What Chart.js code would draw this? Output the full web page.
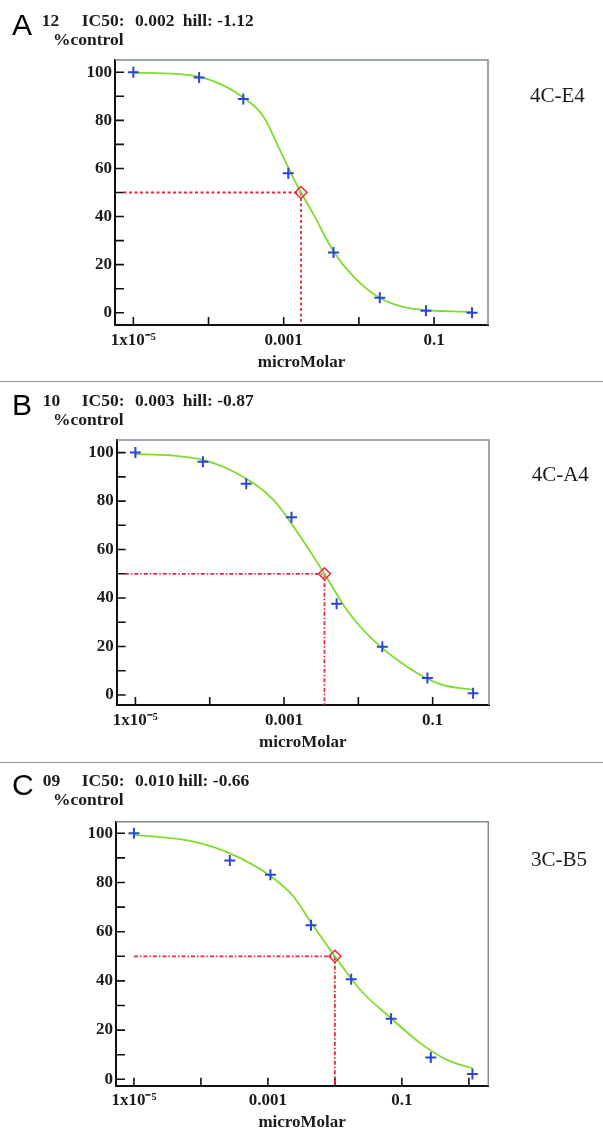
<!DOCTYPE html>
<html>
<head>
<meta charset="utf-8">
<script src="https://cdn.jsdelivr.net/npm/chart.js@4.4.1/dist/chart.umd.min.js"></script>
<style>
    html, body { margin: 0; padding: 0; background: #fff; }
    #page { position: relative; width: 603px; height: 1143px; overflow: hidden; }
    canvas { position: absolute; left: 0; }
    .txt { position: absolute; line-height: 1; white-space: pre; color: #1b1b1b; }
    .serif { font-family: "Liberation Serif", "Times New Roman", serif; }
    .hdr { font-size: 17.5px; font-weight: bold; }
    .letter { font-family: "Liberation Sans", Arial, sans-serif; font-size: 30px; color: #000; }
    .cmpd { font-size: 21px; }
    .sep { position: absolute; left: 0; width: 603px; height: 1px; background: #8c999c; }
</style>
</head>
<body>
<div id="page"></div>
<script>
// panel texts
const panelLetters = ['A', 'B', 'C'];
const wellIds = ['12', '10', '09'];
const ic50Labels = ['0.002', '0.003', '0.010'];
const hillLabels = ['-1.12', '-0.87', '-0.66'];
const compoundNames = ['4C-E4', '4C-A4', '3C-B5'];

// measured points (microMolar, %control)
const concA = [1e-5, 7.5e-5, 2.9e-4, 1.15e-3, 4.6e-3, 1.9e-2, 7.8e-2, 0.32];
const respA = [100, 97.8, 88.9, 58.0, 25.1, 6.2, 0.8, 0];
const concB = [1e-5, 8.1e-5, 3.1e-4, 1.26e-3, 5.1e-3, 2.1e-2, 8.5e-2, 0.35];
const respB = [100, 96.2, 87.1, 73.3, 37.6, 19.9, 7.0, 0.7];
const concC = [1e-5, 2.7e-4, 1.09e-3, 4.4e-3, 1.75e-2, 6.9e-2, 0.27, 1.13];
const respC = [100, 88.9, 83.1, 62.6, 40.7, 24.6, 8.9, 2.2];

// fitted curves
const fitConcA = [1e-5, 3.8e-5, 1.05e-4, 2.9e-4, 5.4e-4, 8.9e-4, 1.35e-3, 1.7e-3, 2.45e-3, 4.6e-3, 8.5e-3, 1.86e-2, 4.8e-2, 0.316];
const fitA = [99.8, 99.3, 96.8, 89.5, 81.5, 67.7, 55.9, 50, 41.3, 25.5, 15.0, 6.3, 1.8, 0.3];
const fitConcB = [1e-5, 2.95e-5, 8.1e-5, 2.3e-4, 7.2e-4, 1.66e-3, 3.5e-3, 7.0e-3, 1.58e-2, 4.5e-2, 0.126, 0.347];
const fitB = [99.4, 98.9, 97.0, 91.5, 80.5, 65.3, 50, 35.1, 22.7, 11.7, 4.5, 2.1];
const fitConcC = [1e-5, 2.45e-5, 7.8e-5, 2.67e-4, 1.09e-3, 2.43e-3, 4.4e-3, 1.0e-2, 2.4e-2, 6.9e-2, 0.19, 0.48, 1.13];
const fitC = [99.3, 98.4, 96.6, 91.9, 82.6, 74.2, 63.7, 50, 36.3, 24.8, 14.6, 7.8, 4.5];

// IC50 markers and where the dashed guide starts
const ic50Conc = [1.7e-3, 3.5e-3, 1.0e-2];
const guideStart = [7.4e-6, 7.2e-6, 1e-5];

// axes
const yTickValues = [0, 10, 20, 30, 40, 50, 60, 70, 80, 90, 100];
const xTickValuesAB = [1e-5, 1e-4, 1e-3, 1e-2, 1e-1];
const xTickValuesC = [1e-5, 1e-4, 1e-3, 1e-2, 1e-1, 1];
const xLabelValues = [1e-5, 1e-3, 1e-1];
const xLabelText = ['1x10\u207B\u2075', '0.001', '0.1'];

const COLORS = {
    curve: '#80dc2a',
    cross: '#2b46d4',
    ic50: '#e02a3c',
    frame: '#7f8d91',
    axis: '#111',
    text: '#1b1b1b',
};

const SERIF = '"Liberation Serif", "Times New Roman", serif';

// layout of each panel on the page (canvas coords for the plot area)
const PANELS = [
    { top: 0, height: 381, area: { left: 115, right: 488, top: 60, bottom: 325 },
      xMin: 5.7e-6, xMax: 0.522, yMin: -5.1, yMax: 105.1, titlePad: 8.5, dash: [3, 2.5],
      textTop: 0, wellX: 41.7, hillX: 182.7, cmpd: { x: 530, base: 103 } },
    { top: 381, height: 381, area: { left: 116.7, right: 489, top: 59, bottom: 324 },
      xMin: 5.6e-6, xMax: 0.573, yMin: -4.13, yMax: 105.2, titlePad: 9.5, dash: [4, 2, 1.5, 2],
      textTop: 380, wellX: 42.7, hillX: 182.7, cmpd: { x: 531.7, base: 482 } },
    { top: 762, height: 381, area: { left: 116, right: 488.3, top: 59.7, bottom: 323.7 },
      xMin: 5.4e-6, xMax: 1.95, yMin: -2.6, yMax: 104.7, titlePad: 10.5, dash: [4, 2, 1.5, 2],
      textTop: 760, wellX: 42.7, hillX: 178.3, cmpd: { x: 531, base: 866.7 } },
];

const seriesConc = [concA, concB, concC];
const seriesResp = [respA, respB, respC];
const fitConc = [fitConcA, fitConcB, fitConcC];
const fitResp = [fitA, fitB, fitC];
const xTickSets = [xTickValuesAB, xTickValuesAB, xTickValuesC];

function toPoints(xs, ys) {
    return xs.map((x, i) => ({ x: x, y: ys[i] }));
}

// frame (top/right) and inward tick marks
const frameAndTicks = {
    id: 'frameAndTicks',
    beforeDatasetsDraw(chart) {
        const { ctx, chartArea: a, scales: { x, y } } = chart;
        ctx.save();
        ctx.strokeStyle = COLORS.frame;
        ctx.lineWidth = 1.5;
        ctx.beginPath();
        ctx.moveTo(a.left, a.top);
        ctx.lineTo(a.right, a.top);
        ctx.lineTo(a.right, a.bottom);
        ctx.stroke();

        ctx.strokeStyle = COLORS.axis;
        ctx.lineWidth = 1.6;
        ctx.beginPath();
        y.ticks.forEach(t => {
            const py = y.getPixelForValue(t.value);
            ctx.moveTo(a.left, py);
            ctx.lineTo(a.left + 9, py);
        });
        x.ticks.forEach(t => {
            const px = x.getPixelForValue(t.value);
            ctx.moveTo(px, a.bottom);
            ctx.lineTo(px, a.bottom - 8);
        });
        ctx.stroke();
        ctx.restore();
    }
};

function addText(page, cls, text, left, baseline, size, ascentRatio) {
    const el = document.createElement('div');
    el.className = 'txt ' + cls;
    el.textContent = text;
    el.style.left = left + 'px';
    el.style.top = (baseline - ascentRatio * size) + 'px';
    page.appendChild(el);
}

document.addEventListener('DOMContentLoaded', function () {
    const page = document.getElementById('page');

    [381, 762].forEach(y => {
        const s = document.createElement('div');
        s.className = 'sep';
        s.style.top = y + 'px';
        page.appendChild(s);
    });

    PANELS.forEach((p, i) => {
        const canvas = document.createElement('canvas');
        canvas.width = 603;
        canvas.height = p.height;
        canvas.style.top = p.top + 'px';
        page.appendChild(canvas);

        const o = p.textTop;
        addText(page, 'letter', panelLetters[i], 12, 35 + o, 30, 0.8465);
        addText(page, 'serif hdr', wellIds[i], p.wellX, 26.7 + o, 17.5, 0.8375);
        addText(page, 'serif hdr', 'IC50:', 81.7, 26.7 + o, 17.5, 0.8375);
        addText(page, 'serif hdr', ic50Labels[i], 135, 26.7 + o, 17.5, 0.8375);
        addText(page, 'serif hdr', 'hill: ' + hillLabels[i], p.hillX, 26.7 + o, 17.5, 0.8375);
        addText(page, 'serif hdr', '%control', 53, 45.7 + o, 17.5, 0.8375);
        addText(page, 'serif cmpd', compoundNames[i], p.cmpd.x, p.cmpd.base, 21, 0.8375);

        const ic = ic50Conc[i];
        const xTicks = xTickSets[i];

        new Chart(canvas.getContext('2d'), {
            type: 'scatter',
            data: {
                datasets: [
                    {
                        data: toPoints(seriesConc[i], seriesResp[i]),
                        pointStyle: 'cross',
                        pointRadius: 5.5,
                        borderColor: COLORS.cross,
                        pointBorderColor: COLORS.cross,
                        pointBorderWidth: 2,
                    },
                    {
                        data: [{ x: ic, y: 50 }],
                        pointStyle: 'rectRot',
                        pointRadius: 6,
                        pointBorderColor: COLORS.ic50,
                        pointBackgroundColor: 'rgba(255,255,255,0)',
                        pointBorderWidth: 1.5,
                    },
                    {
                        data: toPoints(fitConc[i], fitResp[i]),
                        showLine: true,
                        borderColor: COLORS.curve,
                        borderWidth: 1.8,
                        pointRadius: 0,
                        cubicInterpolationMode: 'monotone',
                    },
                    {
                        data: [{ x: guideStart[i], y: 50 }, { x: ic, y: 50 }],
                        showLine: true,
                        borderColor: COLORS.ic50,
                        borderWidth: 1.8,
                        borderDash: p.dash,
                        pointRadius: 0,
                    },
                    {
                        data: [{ x: ic, y: 50 }, { x: ic, y: p.yMin }],
                        showLine: true,
                        borderColor: COLORS.ic50,
                        borderWidth: 1.8,
                        borderDash: p.dash,
                        pointRadius: 0,
                    },
                ]
            },
            options: {
                responsive: false,
                animation: false,
                layout: {
                    padding: { top: p.area.top, right: 603 - p.area.right, left: 0, bottom: 0 }
                },
                plugins: {
                    legend: { display: false },
                    tooltip: { enabled: false },
                },
                scales: {
                    x: {
                        type: 'logarithmic',
                        min: p.xMin,
                        max: p.xMax,
                        grid: { display: false, drawTicks: false },
                        border: { display: true, color: COLORS.axis, width: 2 },
                        afterBuildTicks: scale => {
                            scale.ticks = xTicks.map(v => ({ value: v }));
                        },
                        afterFit: scale => {
                            scale.height = p.height - p.area.bottom;
                        },
                        ticks: {
                            autoSkip: false,
                            maxRotation: 0,
                            padding: 5,
                            color: COLORS.text,
                            font: { family: SERIF, weight: 'bold', size: 17 },
                            callback: v => {
                                const k = xLabelValues.findIndex(t => Math.abs(Math.log10(t) - Math.log10(v)) < 1e-6);
                                return k >= 0 ? xLabelText[k] : '';
                            }
                        },
                        title: {
                            display: true,
                            text: 'microMolar',
                            color: COLORS.text,
                            padding: { top: 0, bottom: p.titlePad },
                            font: { family: SERIF, weight: 'bold', size: 17 }
                        }
                    },
                    y: {
                        min: p.yMin,
                        max: p.yMax,
                        grid: { display: false, drawTicks: false },
                        border: { display: true, color: COLORS.axis, width: 2 },
                        afterBuildTicks: scale => {
                            scale.ticks = yTickValues.map(v => ({ value: v }));
                        },
                        afterFit: scale => {
                            scale.width = p.area.left;
                        },
                        ticks: {
                            autoSkip: false,
                            padding: 3,
                            color: COLORS.text,
                            font: { family: SERIF, weight: 'bold', size: 17 },
                            callback: v => (v % 20 === 0 ? String(v) : '')
                        }
                    }
                }
            },
            plugins: [frameAndTicks]
        });
    });
});
</script>
</body>
</html>
